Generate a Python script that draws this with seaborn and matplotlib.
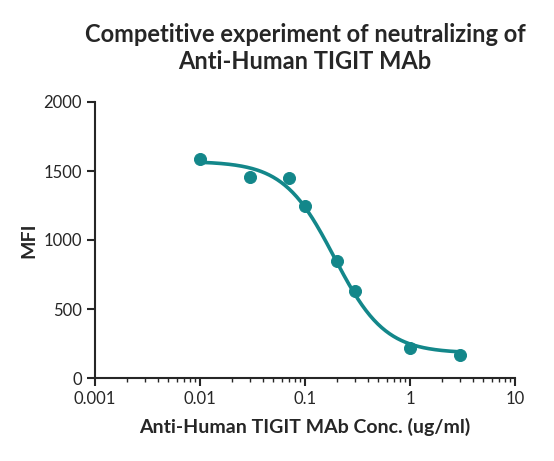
import numpy as np
import matplotlib
matplotlib.use("Agg")
import matplotlib.pyplot as plt
import seaborn as sns
from matplotlib.ticker import LogLocator, FixedLocator, NullFormatter

conc = [0.01, 0.03, 0.07, 0.1, 0.2, 0.3, 1, 3]
mfi = [1590, 1460, 1450, 1245, 850, 630, 215, 170]
# 4PL fit parameters (estimated)
top, bottom, ec50, hill = 1570, 180, 0.19, 1.8
xticks = [0.001, 0.01, 0.1, 1, 10]
xticklabels = ["0.001", "0.01", "0.1", "1", "10"]
yticks = [0, 500, 1000, 1500, 2000]

sns.set_style("ticks")
plt.rcParams['font.family'] = ['Lato', 'DejaVu Sans']
color = "#13878a"

fig = plt.figure(figsize=(5.54, 4.61), dpi=100)
ax = fig.add_axes([95/554, 1-378/461, 420/554, 276/461])
xs = np.logspace(-2, np.log10(3), 200)
ys = bottom + (top - bottom) / (1 + (xs / ec50) ** hill)
sns.lineplot(x=xs, y=ys, ax=ax, color=color, lw=2.6)
sns.scatterplot(x=conc, y=mfi, ax=ax, color=color, s=75, edgecolor=color, zorder=3)
ax.set_xscale("log")
ax.set_xlim(0.001, 10)
ax.set_ylim(0, 2000)
ax.xaxis.set_major_locator(FixedLocator(xticks))
ax.set_xticklabels(xticklabels)
ax.xaxis.set_minor_locator(LogLocator(base=10, subs=np.arange(2, 10)))
ax.xaxis.set_minor_formatter(NullFormatter())
ax.set_yticks(yticks)
for s in ["top", "right"]:
    ax.spines[s].set_visible(False)
for s in ["left", "bottom"]:
    ax.spines[s].set_linewidth(1.5)
ax.tick_params(which="major", length=6, width=1.5, labelsize=12)
ax.tick_params(which="minor", length=3, width=1)
ax.set_xlabel("Anti-Human TIGIT MAb Conc. (ug/ml)", fontsize=14, fontweight="bold", labelpad=8)
ax.set_ylabel("MFI", fontsize=14, fontweight="bold")
ax.set_title("Competitive experiment of neutralizing of\nAnti-Human TIGIT MAb", fontsize=17, fontweight="bold", pad=24)
fig.savefig("out.png", dpi=100)
